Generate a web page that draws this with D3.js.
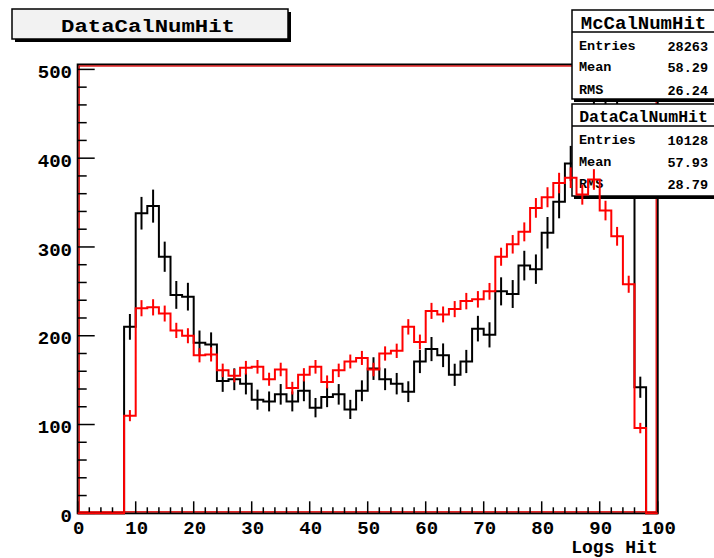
<!DOCTYPE html>
<html>
<head>
<meta charset="utf-8">
<script src="https://cdn.jsdelivr.net/npm/d3@7"></script>
<style>
  body { margin: 0; background: #fff; }
  text { font-family: "Liberation Mono", "DejaVu Sans Mono", monospace; font-weight: bold; }
</style>
</head>
<body>
<svg></svg>
<script>
const width = 714;
const height = 558;

// 50 bins of width 2 from 0 to 100
const binEdges = d3.range(0, 101, 2);
const dataCounts = [0, 0, 0, 0, 210, 338, 346, 289, 246, 244, 192, 190, 149, 151, 146, 128, 126, 134, 126, 138,
    119, 131, 134, 117, 138, 163, 151, 146, 137, 171, 185, 178, 156, 171, 208, 201, 250, 247, 279, 275,
    316, 351, 394, 422, 448, 460, 457, 434, 142, 0];
const mcCounts = [0, 0, 0, 0, 110, 231, 232, 225, 206, 200, 178, 179, 161, 155, 164, 165, 151, 162, 141, 156,
    165, 148, 161, 171, 175, 162, 180, 183, 210, 193, 228, 224, 230, 239, 241, 250, 289, 303, 317, 344,
    356, 372, 378, 359, 376, 341, 312, 258, 96, 0];
const xTicks = [0, 10, 20, 30, 40, 50, 60, 70, 80, 90, 100];
const yTicks = [0, 100, 200, 300, 400, 500];
const mcStats = [["Entries", "28263"], ["Mean", "58.29"], ["RMS", "26.24"]];
const dataStats = [["Entries", "10128"], ["Mean", "57.93"], ["RMS", "28.79"]];
const mcScale = 10128 / 28263;

let svg = d3.select("svg").attr("width", width).attr("height", height);

const frameL = 77.7, frameR = 657.7, frameT = 64.5, frameB = 513.3;
const dataErr = dataCounts.map(v => Math.sqrt(v));
const mcErr = mcCounts.map(v => Math.sqrt(v * mcScale));
const ymax = 1.05 * d3.max(dataCounts, (v, i) => v + dataErr[i]);

let x = d3.scaleLinear().domain([0, 100]).range([frameL, frameR]);
let y = d3.scaleLinear().domain([0, ymax]).range([frameB, frameT]);

function stepPoints(counts) {
    let pts = [[binEdges[0], 0]];
    counts.forEach((v, i) => {
        pts.push([binEdges[i], v]);
        pts.push([binEdges[i + 1], v]);
    });
    pts.push([binEdges[binEdges.length - 1], 0]);
    return pts;
}
const line = d3.line().x(d => x(d[0])).y(d => y(d[1]));

function drawHist(counts, errs, color) {
    let g = svg.append("g");
    g.append("path").attr("d", line(stepPoints(counts)))
        .attr("fill", "none").attr("stroke", color).attr("stroke-width", 2);
    g.selectAll("line").data(counts.map((v, i) => ({ v, e: errs[i], c: binEdges[i] + 1 })).filter(d => d.v > 0))
        .join("line")
        .attr("x1", d => x(d.c)).attr("x2", d => x(d.c))
        .attr("y1", d => y(d.v - d.e)).attr("y2", d => y(d.v + d.e))
        .attr("stroke", color).attr("stroke-width", 2);
}

// frame
svg.append("rect").attr("x", frameL).attr("y", frameT).attr("width", frameR - frameL).attr("height", frameB - frameT)
    .attr("fill", "none").attr("stroke", "#000").attr("stroke-width", 2);
svg.append("rect").attr("x", frameL + 1.5).attr("y", frameT + 1.5).attr("width", frameR - frameL - 3).attr("height", frameB - frameT - 3)
    .attr("fill", "none").attr("stroke", "#e00000").attr("stroke-width", 1.3);

// ticks
let xt = svg.append("g");
d3.range(0, 101, 2).forEach(v => {
    let major = v % 10 === 0;
    xt.append("line").attr("x1", x(v)).attr("x2", x(v)).attr("y1", frameB).attr("y2", frameB - (major ? 12 : 6))
        .attr("stroke", "#000").attr("stroke-width", 1.5);
});
xt.selectAll("text").data(xTicks).join("text")
    .attr("x", d => x(d) + 1).attr("y", 527).attr("dy", "0.35em")
    .attr("text-anchor", "middle").attr("font-size", 19).text(d => d);

let yt = svg.append("g");
d3.range(0, 501, 20).forEach(v => {
    let major = v % 100 === 0;
    yt.append("line").attr("x1", frameL).attr("x2", frameL + (major ? 17 : 9)).attr("y1", y(v)).attr("y2", y(v))
        .attr("stroke", "#000").attr("stroke-width", 1.5);
});
yt.selectAll("text").data(yTicks).join("text")
    .attr("x", 72).attr("y", d => y(d) + 2).attr("dy", "0.35em")
    .attr("text-anchor", "end").attr("font-size", 19).text(d => d);

svg.append("text").attr("x", frameR).attr("y", 547).attr("dy", "0.35em")
    .attr("text-anchor", "end").attr("font-size", 18).text("Logs Hit");

// data histogram, then its stats box, then MC on top
drawHist(dataCounts, dataErr, "#000");

function statsBox(y0, y1, div, title, titleSize, rows, rowYs) {
    let g = svg.append("g");
    g.append("rect").attr("x", 574).attr("y", y0 + 3).attr("width", 150).attr("height", y1 - y0).attr("fill", "#000");
    g.append("rect").attr("x", 572).attr("y", y0).attr("width", 150).attr("height", y1 - y0)
        .attr("fill", "#fff").attr("stroke", "#000").attr("stroke-width", 1.5);
    g.append("line").attr("x1", 572).attr("x2", 714).attr("y1", div).attr("y2", div)
        .attr("stroke", "#000").attr("stroke-width", 1.5);
    g.append("text").attr("x", 643.5).attr("y", (y0 + div) / 2 + 1).attr("dy", "0.35em")
        .attr("text-anchor", "middle").attr("font-size", titleSize).text(title);
    rows.forEach((r, i) => {
        g.append("text").attr("x", 579).attr("y", rowYs[i]).attr("dy", "0.35em").attr("font-size", 13.5).text(r[0]);
        g.append("text").attr("x", 708).attr("y", rowYs[i] + 1).attr("dy", "0.35em")
            .attr("text-anchor", "end").attr("font-size", 13.5).text(r[1]);
    });
}
statsBox(104, 196, 126, "DataCalNumHit", 16.5, dataStats, [139, 161, 183]);

drawHist(mcCounts, mcErr, "#ff0000");

statsBox(10, 99, 32, "McCalNumHit", 19, mcStats, [45, 66, 89]);

// title box
svg.append("rect").attr("x", 15).attr("y", 12).attr("width", 276).attr("height", 30).attr("fill", "#000");
svg.append("rect").attr("x", 12).attr("y", 9).attr("width", 276).attr("height", 30)
    .attr("fill", "#f2f2f2").attr("stroke", "#000").attr("stroke-width", 1.5);
svg.append("text").attr("x", 148).attr("y", 25).attr("dy", "0.35em")
    .attr("text-anchor", "middle").attr("font-size", 19)
    .attr("textLength", 174).attr("lengthAdjust", "spacingAndGlyphs").text("DataCalNumHit");
</script>
</body>
</html>
